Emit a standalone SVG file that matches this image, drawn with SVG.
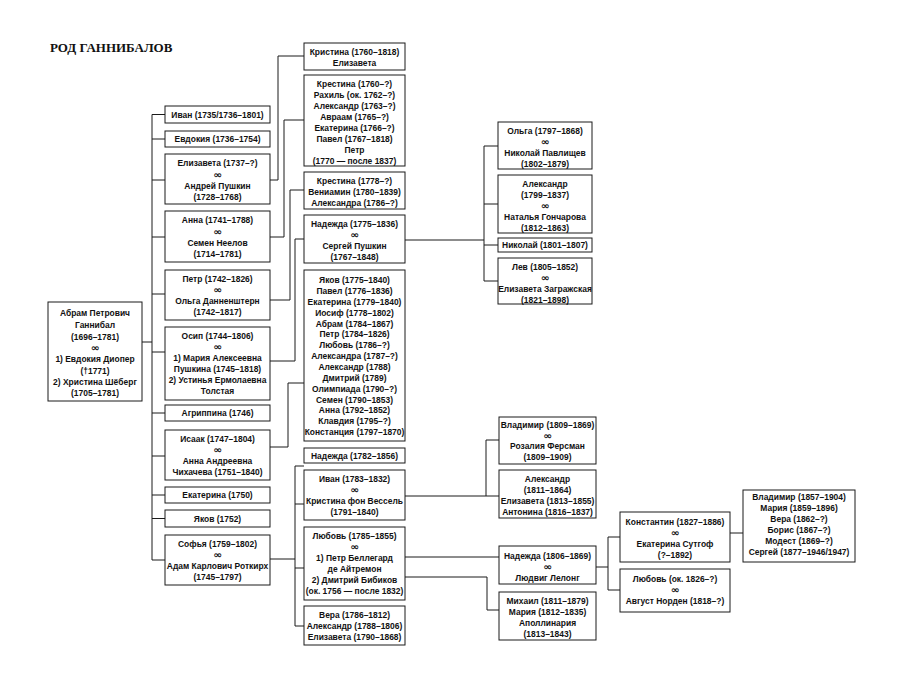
<svg xmlns="http://www.w3.org/2000/svg" width="900" height="700" viewBox="0 0 900 700">
<style>
.b{fill:#fff;stroke:#1a1a1a;stroke-width:1}
.c{fill:none;stroke:#1a1a1a;stroke-width:1}
text{font-family:"Liberation Sans",Arial,sans-serif;font-size:9.5px;font-weight:bold;fill:#111;text-anchor:middle;dominant-baseline:central}
.m{font-family:"DejaVu Sans",sans-serif;font-size:9px;font-weight:bold}
.title{font-family:"Liberation Serif",serif;font-size:13px;font-weight:bold;text-anchor:start;dominant-baseline:auto}
</style>
<rect width="900" height="700" fill="#fff"/>
<text class="title" x="50" y="52">РОД ГАННИБАЛОВ</text>

<g id="connectors">
<path class="c" d="M142,342H152 M152,114.5V560 M152,114.5H165 M152,139H165 M152,180H165 M152,237H165 M152,294H165 M152,352H165 M152,413H165 M152,456H165 M152,495H165 M152,518.5H165 M152,560H165"/>
<path class="c" d="M270,180H278V56H304"/>
<path class="c" d="M270,237H284V120H304"/>
<path class="c" d="M270,300H290V190H304"/>
<path class="c" d="M270,361H295V239H304"/>
<path class="c" d="M270,447H288V383H304"/>
<path class="c" d="M270,559H295 M295,466V626 M295,466H304 M295,504H304 M295,568H304 M295,626H304"/>
<path class="c" d="M405,240H484 M484,146V281 M484,146H498 M484,204H498 M484,245H498 M484,281H498"/>
<path class="c" d="M405,496H499 M486,496V440H499"/>
<path class="c" d="M405,557H499 M405,577H487V610H499"/>
<path class="c" d="M596,567H608 M608,537V590 M608,537H620 M608,590H620"/>
<path class="c" d="M730,533H743"/>
</g>

<g id="abram">
<rect class="b" x="48" y="302" width="94" height="99"/>
<g transform="translate(95 0) scale(0.89 1)">
<text y="313">Абрам Петрович</text>
<text y="325">Ганнибал</text>
<text y="337">(1696–1781)</text>
<text class="m" y="348" transform="scale(1.35 1)">∞</text>
<text y="359">1) Евдокия Диопер</text>
<text y="371">(†1771)</text>
<text y="382">2) Христина Шёберг</text>
<text y="393">(1705–1781)</text>
</g>
</g>

<g id="ivan1735">
<rect class="b" x="165" y="106" width="105" height="17"/>
<g transform="translate(217.5 0) scale(0.89 1)"><text y="114.5">Иван (1735/1736–1801)</text></g>
</g>
<g id="evdokiya1736">
<rect class="b" x="165" y="131" width="105" height="16"/>
<g transform="translate(217.5 0) scale(0.89 1)"><text y="139">Евдокия (1736–1754)</text></g>
</g>
<g id="elizaveta1737">
<rect class="b" x="165" y="154" width="105" height="50"/>
<g transform="translate(217.5 0) scale(0.89 1)">
<text y="163">Елизавета (1737–?)</text>
<text class="m" y="174.5" transform="scale(1.35 1)">∞</text>
<text y="186">Андрей Пушкин</text>
<text y="197">(1728–1768)</text>
</g>
</g>
<g id="anna1741">
<rect class="b" x="165" y="211" width="105" height="51"/>
<g transform="translate(217.5 0) scale(0.89 1)">
<text y="220">Анна (1741–1788)</text>
<text class="m" y="231.5" transform="scale(1.35 1)">∞</text>
<text y="243">Семен Неелов</text>
<text y="254">(1714–1781)</text>
</g>
</g>
<g id="petr1742">
<rect class="b" x="165" y="270" width="105" height="50"/>
<g transform="translate(217.5 0) scale(0.89 1)">
<text y="279">Петр (1742–1826)</text>
<text class="m" y="290" transform="scale(1.35 1)">∞</text>
<text y="301">Ольга Данненштерн</text>
<text y="312">(1742–1817)</text>
</g>
</g>
<g id="osip1744">
<rect class="b" x="165" y="327" width="105" height="73"/>
<g transform="translate(217.5 0) scale(0.89 1)">
<text y="336">Осип (1744–1806)</text>
<text class="m" y="347" transform="scale(1.35 1)">∞</text>
<text y="358">1) Мария Алексеевна</text>
<text y="369">Пушкина (1745–1818)</text>
<text y="380">2) Устинья Ермолаевна</text>
<text y="391">Толстая</text>
</g>
</g>
<g id="agrippina1746">
<rect class="b" x="165" y="405" width="105" height="16"/>
<g transform="translate(217.5 0) scale(0.89 1)"><text y="413">Агриппина (1746)</text></g>
</g>
<g id="isaak1747">
<rect class="b" x="165" y="430" width="105" height="50"/>
<g transform="translate(217.5 0) scale(0.89 1)">
<text y="439">Исаак (1747–1804)</text>
<text class="m" y="450" transform="scale(1.35 1)">∞</text>
<text y="461">Анна Андреевна</text>
<text y="472">Чихачева (1751–1840)</text>
</g>
</g>
<g id="ekaterina1750">
<rect class="b" x="165" y="487" width="105" height="16"/>
<g transform="translate(217.5 0) scale(0.89 1)"><text y="495">Екатерина (1750)</text></g>
</g>
<g id="yakov1752">
<rect class="b" x="165" y="510" width="105" height="17"/>
<g transform="translate(217.5 0) scale(0.89 1)"><text y="518.5">Яков (1752)</text></g>
</g>
<g id="sofya1759">
<rect class="b" x="165" y="535" width="105" height="50"/>
<g transform="translate(217.5 0) scale(0.89 1)">
<text y="544">Софья (1759–1802)</text>
<text class="m" y="555" transform="scale(1.35 1)">∞</text>
<text y="566">Адам Карлович Роткирх</text>
<text y="577">(1745–1797)</text>
</g>
</g>

<g id="kristina1760">
<rect class="b" x="304" y="43" width="101" height="27"/>
<g transform="translate(354.5 0) scale(0.89 1)">
<text y="52">Кристина (1760–1818)</text>
<text y="63">Елизавета</text>
</g>
</g>
<g id="krestina1760">
<rect class="b" x="304" y="75" width="101" height="91"/>
<g transform="translate(354.5 0) scale(0.89 1)">
<text y="84">Крестина (1760–?)</text>
<text y="95">Рахиль (ок. 1762–?)</text>
<text y="106">Александр (1763–?)</text>
<text y="117">Авраам (1765–?)</text>
<text y="128">Екатерина (1766–?)</text>
<text y="139">Павел (1767–1818)</text>
<text y="150">Петр</text>
<text y="161">(1770 — после 1837)</text>
</g>
</g>
<g id="krestina1778">
<rect class="b" x="304" y="172" width="101" height="37"/>
<g transform="translate(354.5 0) scale(0.89 1)">
<text y="181">Крестина (1778–?)</text>
<text y="192">Вениамин (1780–1839)</text>
<text y="203">Александра (1786–?)</text>
</g>
</g>
<g id="nadezhda1775">
<rect class="b" x="304" y="215" width="101" height="48"/>
<g transform="translate(354.5 0) scale(0.89 1)">
<text y="224">Надежда (1775–1836)</text>
<text class="m" y="235" transform="scale(1.35 1)">∞</text>
<text y="246">Сергей Пушкин</text>
<text y="257">(1767–1848)</text>
</g>
</g>
<g id="yakov1775">
<rect class="b" x="304" y="270" width="101" height="171"/>
<g transform="translate(354.5 0) scale(0.89 1)">
<text y="280">Яков (1775–1840)</text>
<text y="290.9">Павел (1776–1836)</text>
<text y="301.7">Екатерина (1779–1840)</text>
<text y="312.6">Иосиф (1778–1802)</text>
<text y="323.4">Абрам (1784–1867)</text>
<text y="334.3">Петр (1784–1826)</text>
<text y="345.1">Любовь (1786–?)</text>
<text y="356">Александра (1787–?)</text>
<text y="366.8">Александр (1788)</text>
<text y="377.7">Дмитрий (1789)</text>
<text y="388.5">Олимпиада (1790–?)</text>
<text y="399.4">Семен (1790–1853)</text>
<text y="410.2">Анна (1792–1852)</text>
<text y="421.1">Клавдия (1795–?)</text>
<text y="431.9">Констанция (1797–1870)</text>
</g>
</g>
<g id="nadezhda1782">
<rect class="b" x="304" y="448" width="101" height="15"/>
<g transform="translate(354.5 0) scale(0.89 1)"><text y="455.5">Надежда (1782–1856)</text></g>
</g>
<g id="ivan1783">
<rect class="b" x="304" y="470" width="101" height="50"/>
<g transform="translate(354.5 0) scale(0.89 1)">
<text y="479">Иван (1783–1832)</text>
<text class="m" y="490" transform="scale(1.35 1)">∞</text>
<text y="501">Кристина фон Вессель</text>
<text y="512">(1791–1840)</text>
</g>
</g>
<g id="lyubov1785">
<rect class="b" x="304" y="527" width="101" height="73"/>
<g transform="translate(354.5 0) scale(0.89 1)">
<text y="536">Любовь (1785–1855)</text>
<text class="m" y="547" transform="scale(1.35 1)">∞</text>
<text y="558">1) Петр Беллегард</text>
<text y="569">де Айтремон</text>
<text y="580">2) Дмитрий Бибиков</text>
<text y="591">(ок. 1756 — после 1832)</text>
</g>
</g>
<g id="vera1786">
<rect class="b" x="304" y="606" width="101" height="39"/>
<g transform="translate(354.5 0) scale(0.89 1)">
<text y="615">Вера (1786–1812)</text>
<text y="626">Александр (1788–1806)</text>
<text y="637">Елизавета (1790–1868)</text>
</g>
</g>

<g id="olga1797">
<rect class="b" x="498" y="122" width="94" height="47"/>
<g transform="translate(545 0) scale(0.89 1)">
<text y="131">Ольга (1797–1868)</text>
<text class="m" y="142" transform="scale(1.35 1)">∞</text>
<text y="153">Николай Павлищев</text>
<text y="164">(1802–1879)</text>
</g>
</g>
<g id="aleksandr1799">
<rect class="b" x="498" y="175" width="94" height="58"/>
<g transform="translate(545 0) scale(0.89 1)">
<text y="184">Александр</text>
<text y="195">(1799–1837)</text>
<text class="m" y="206" transform="scale(1.35 1)">∞</text>
<text y="217">Наталья Гончарова</text>
<text y="228">(1812–1863)</text>
</g>
</g>
<g id="nikolay1801">
<rect class="b" x="498" y="238" width="94" height="14"/>
<g transform="translate(545 0) scale(0.89 1)"><text y="245">Николай (1801–1807)</text></g>
</g>
<g id="lev1805">
<rect class="b" x="498" y="258" width="94" height="46"/>
<g transform="translate(545 0) scale(0.89 1)">
<text y="267">Лев (1805–1852)</text>
<text class="m" y="278" transform="scale(1.35 1)">∞</text>
<text y="289">Елизавета Загражская</text>
<text y="300">(1821–1898)</text>
</g>
</g>

<g id="vladimir1809">
<rect class="b" x="499" y="417" width="97" height="47"/>
<g transform="translate(547.5 0) scale(0.89 1)">
<text y="425">Владимир (1809–1869)</text>
<text class="m" y="435.5" transform="scale(1.35 1)">∞</text>
<text y="446">Розалия Ферсман</text>
<text y="457">(1809–1909)</text>
</g>
</g>
<g id="aleksandr1811">
<rect class="b" x="499" y="470" width="97" height="48"/>
<g transform="translate(547.5 0) scale(0.89 1)">
<text y="479">Александр</text>
<text y="490">(1811–1864)</text>
<text y="501">Елизавета (1813–1855)</text>
<text y="512">Антонина (1816–1837)</text>
</g>
</g>
<g id="nadezhda1806">
<rect class="b" x="499" y="546" width="97" height="38"/>
<g transform="translate(547.5 0) scale(0.89 1)">
<text y="556">Надежда (1806–1869)</text>
<text class="m" y="567" transform="scale(1.35 1)">∞</text>
<text y="578">Людвиг Лелонг</text>
</g>
</g>
<g id="mikhail1811">
<rect class="b" x="499" y="592" width="97" height="48"/>
<g transform="translate(547.5 0) scale(0.89 1)">
<text y="601">Михаил (1811–1879)</text>
<text y="612">Мария (1812–1835)</text>
<text y="623">Аполлинария</text>
<text y="634">(1813–1843)</text>
</g>
</g>

<g id="konstantin1827">
<rect class="b" x="620" y="512" width="110" height="50"/>
<g transform="translate(675 0) scale(0.89 1)">
<text y="522">Константин (1827–1886)</text>
<text class="m" y="533" transform="scale(1.35 1)">∞</text>
<text y="544">Екатерина Сутгоф</text>
<text y="555">(?–1892)</text>
</g>
</g>
<g id="lyubov1826">
<rect class="b" x="620" y="569" width="110" height="43"/>
<g transform="translate(675 0) scale(0.89 1)">
<text y="579">Любовь (ок. 1826–?)</text>
<text class="m" y="590" transform="scale(1.35 1)">∞</text>
<text y="601">Август Норден (1818–?)</text>
</g>
</g>

<g id="vladimir1857">
<rect class="b" x="743" y="490" width="112" height="72"/>
<g transform="translate(799 0) scale(0.89 1)">
<text y="497">Владимир (1857–1904)</text>
<text y="508">Мария (1859–1896)</text>
<text y="519">Вера (1862–?)</text>
<text y="530">Борис (1867–?)</text>
<text y="541">Модест (1869–?)</text>
<text y="552">Сергей (1877–1946/1947)</text>
</g>
</g>
</svg>
